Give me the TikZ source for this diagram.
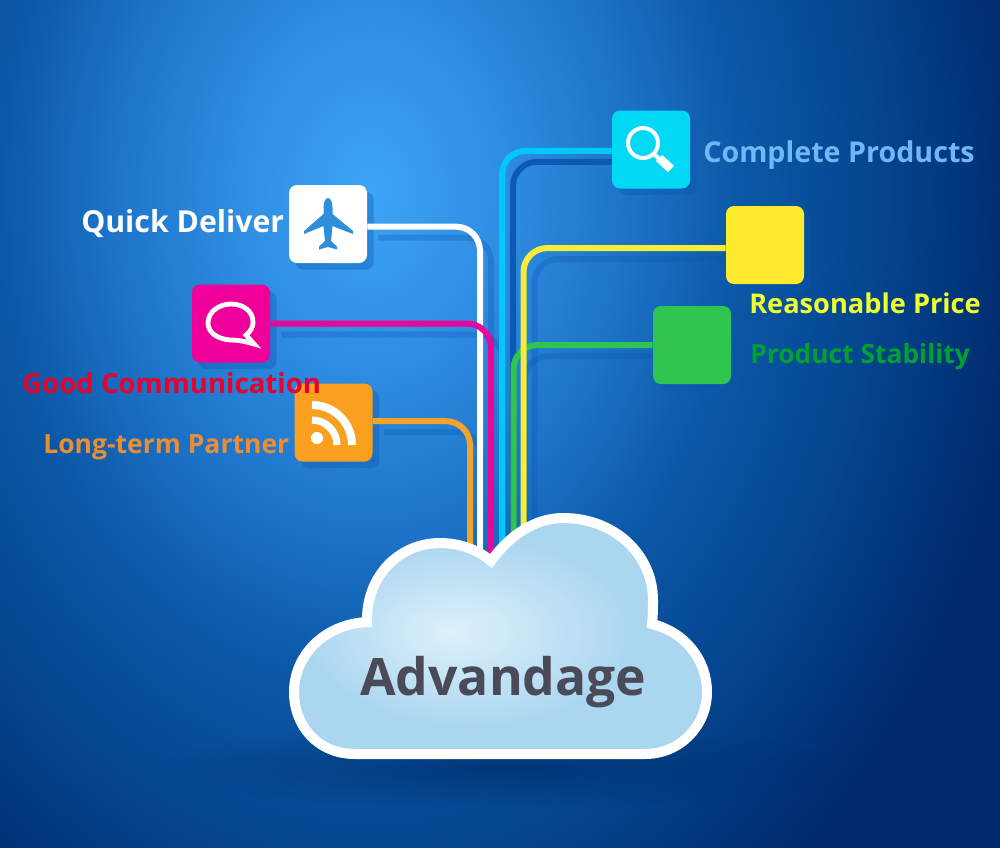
\documentclass[tikz,border=0pt]{standalone}
\usepackage{fontspec}
\setmainfont{Open Sans}
\usetikzlibrary{backgrounds,shadows,fadings}

\definecolor{planeblue}{HTML}{2F8FDC}
\definecolor{tilecyan}{HTML}{00D8F4}
\definecolor{wirecyan}{HTML}{00C8F8}
\definecolor{tileyellow}{HTML}{FFEB2E}
\definecolor{wireyellow}{HTML}{F6EC3C}
\definecolor{tilegreen}{HTML}{30C450}
\definecolor{tilepink}{HTML}{F0009A}
\definecolor{wirepink}{HTML}{E4089C}
\definecolor{tileorange}{HTML}{F9A01E}
\definecolor{wireorange}{HTML}{F2A32C}
\definecolor{shadeblue}{HTML}{0A55B0}
\definecolor{floorblue}{HTML}{00306E}
\definecolor{textred}{HTML}{E8002E}
\definecolor{textorange}{HTML}{EE8C32}
\definecolor{textsky}{HTML}{70B6F8}
\definecolor{textyellow}{HTML}{F0FF30}
\definecolor{textgreen}{HTML}{00A032}
\definecolor{textgrey}{HTML}{4A4A58}
\definecolor{glowa}{HTML}{3CA4F6}
\definecolor{glowb}{HTML}{2F8EE2}
\definecolor{glowc}{HTML}{1C72C6}
\definecolor{glowd}{HTML}{0B58A6}
\definecolor{glowe}{HTML}{044690}
\definecolor{glowf}{HTML}{002A6C}
\definecolor{cloudhi}{HTML}{DDF1FB}
\definecolor{cloudlo}{HTML}{ABD6F0}

\pgfdeclareradialshading{bgglow}{\pgfpoint{0bp}{0bp}}{
  color(0bp)=(glowa);
  color(2.5bp)=(glowb);
  color(5bp)=(glowc);
  color(7bp)=(glowd);
  color(9.5bp)=(glowe);
  color(12.5bp)=(glowf);
  color(50bp)=(glowf)}
\pgfdeclareradialshading{cloudglow}{\pgfpoint{-6bp}{1bp}}{
  color(0bp)=(cloudhi);
  color(20bp)=(cloudlo);
  color(50bp)=(cloudlo)}
\tikzfading[name=floorfade,inner color=transparent!0,outer color=transparent!100]

\tikzset{
  tile/.style={minimum size=58.5pt,inner sep=0pt,rounded corners=6pt,fill=#1,
    drop shadow={shadow xshift=5pt,shadow yshift=-5pt,opacity=.35,fill=shadeblue}},
  wire/.style={line width=4.5pt,rounded corners=18pt,color=#1},
  wireshade/.style={line width=4.5pt,rounded corners=18pt,color=shadeblue,opacity=.3,
    transform canvas={xshift=8.25pt,yshift=-8.25pt}},
  icon/.style={white,line width=#1,line cap=butt},
  label/.style={anchor=base west,inner sep=0pt}
}

\begin{document}
\begin{tikzpicture}[x=0.75pt,y=0.75pt,yscale=-1,xscale=1]
\useasboundingbox (0,0) rectangle (1000,847);

%Backdrop
\begin{scope}[on background layer]
\clip (0,0) rectangle (1000,847);
\shade[shading=bgglow] (370,190) ellipse (1320 and 1750);
\fill[floorblue,opacity=.75,path fading=floorfade] (505,768) ellipse (350 and 42);
\end{scope}

%Tiles
\draw (328,224) node [tile=white] (plane) {};
\draw (231,323.5) node [tile=tilepink] (chat) {};
\draw (333.5,422.5) node [tile=tileorange] (rss) {};
\draw (651,149.5) node [tile=tilecyan] (search) {};
\draw (765,245) node [tile=tileyellow] (price) {};
\draw (692,345) node [tile=tilegreen] (stable) {};

%Wire ends under the cloud
\coordinate (endorange) at (470,560);
\coordinate (endwhite) at (480,560);
\coordinate (endpink) at (491,560);
\coordinate (endcyan) at (502,560);
\coordinate (endgreen) at (513.5,560);
\coordinate (endyellow) at (523.5,560);

%Wire shadows
\begin{scope}[on background layer]
\draw [wireshade] ([yshift=-1pt]rss.east) -| (endorange);
\draw [wireshade] ([yshift=2pt]plane.east) -| (endwhite);
\draw [wireshade] (chat.east) -| (endpink);
\draw [wireshade,opacity=.9] ([yshift=1pt]search.west) -| (endcyan);
\draw [wireshade] (stable.west) -| (endgreen);
\draw [wireshade] ([yshift=2.25pt]price.west) -| (endyellow);
\end{scope}

%Wires
\draw [wire=wireorange] ([yshift=-1pt]rss.east) -| (endorange);
\draw [wire=white] ([yshift=2pt]plane.east) -| (endwhite);
\draw [wire=wirepink] (chat.east) -| (endpink);
\draw [wire=wirecyan] ([yshift=1pt]search.west) -| (endcyan);
\draw [wire=tilegreen] (stable.west) -| (endgreen);
\draw [wire=wireyellow] ([yshift=2.25pt]price.west) -| (endyellow);

%Shape: Plane
\fill [planeblue] (328,198) .. controls (331,198) and (332.5,203) .. (332.5,208) -- (332.5,214) -- (353,231) -- (353,234) -- (332.5,226) -- (331,241) -- (337,246.5) -- (337,249.5) -- (328,247) -- (319,249.5) -- (319,246.5) -- (325,241) -- (323.5,226) -- (304,234) -- (304,231) -- (323.5,214) -- (323.5,208) .. controls (323.5,203) and (325,198) .. (328,198) -- cycle ;
%Shape: Speech bubble
\draw [icon=3.6pt] (246,335) .. controls (251,331) and (253,327) .. (253,322) .. controls (253,311) and (243,304) .. (231,304) .. controls (219,304) and (208,312) .. (208,323) .. controls (208,333) and (218,339) .. (230,340) .. controls (237,340) and (244,341) .. (254,344) -- cycle ;
%Shape: Feed
\fill [white] (317,438) circle (6);
\draw [icon=5.4pt] (312,420) arc (-90:0:25);
\draw [icon=6pt] (312,405) arc (-90:0:40);
%Shape: Magnifier
\draw [icon=3pt] (643,143) circle (15);
\draw [icon=3pt] (654,154) -- (660,160);
\draw [icon=6.5pt] (659,158) -- (671,169);

%Shape: Cloud
\shadedraw [shading=cloudglow,draw=white,line width=7.5pt,miter limit=4,
  drop shadow={shadow xshift=4pt,shadow yshift=-2pt,opacity=.3,fill=floorblue}]
  (355,754) .. controls (318,754) and (294,726) .. (294,692) .. controls (294,655) and (325,624) .. (367,622) .. controls (366,575) and (400,543) .. (440,543) .. controls (460,543) and (478,550) .. (491,561) .. controls (510,535) and (535,518) .. (563,518) .. controls (615,518) and (653,555) .. (653,600) .. controls (653,608) and (653,615) .. (652,624) .. controls (685,632) and (707,660) .. (707,692) .. controls (707,726) and (680,754) .. (645,754) -- cycle ;

% Text Node
\draw (81,232) node [label,white,font=\fontsize{22.7}{27}\bfseries] (quicktext) {Quick Deliver};
% Text Node
\draw (22,393) node [label,textred,font=\fontsize{20.7}{25}\bfseries] (goodtext) {Good Communication};
% Text Node
\draw (43,453) node [label,textorange,font=\fontsize{19.9}{24}\bfseries] (longtext) {Long-term Partner};
% Text Node
\draw (703,162) node [label,textsky,font=\fontsize{21.5}{26}\bfseries] (completetext) {Complete Products};
% Text Node
\draw (749,313) node [label,textyellow,font=\fontsize{20.4}{25}\bfseries] (pricetext) {Reasonable Price};
% Text Node
\draw (750,363) node [label,textgreen,font=\fontsize{19.8}{24}\bfseries] (stabletext) {Product Stability};
% Text Node
\draw (360,695) node [label,textgrey,font=\fontsize{38.7}{45}\bfseries] (cloudtext) {Advandage};
\end{tikzpicture}
\end{document}
